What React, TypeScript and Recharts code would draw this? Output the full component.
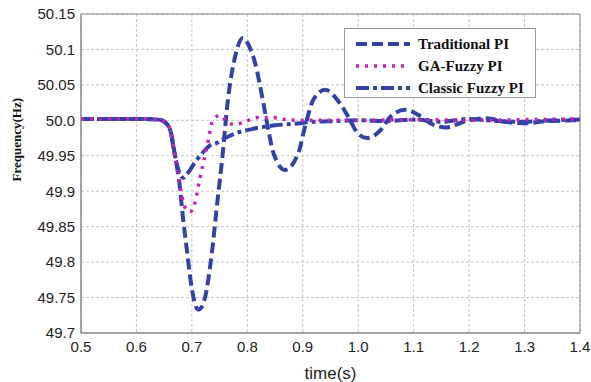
import React from 'react';
import { LineChart, Line, XAxis, YAxis, CartesianGrid, ReferenceArea } from 'recharts';

// time (s) and frequency (Hz)
const tradTime = [0.5, 0.6, 0.64, 0.652, 0.661, 0.67, 0.677, 0.684, 0.691, 0.7, 0.711, 0.718, 0.724, 0.736, 0.745, 0.755, 0.765, 0.778, 0.792, 0.803, 0.814, 0.829, 0.838, 0.847, 0.868, 0.892, 0.904, 0.919, 0.94, 0.967, 0.982, 0.998, 1.016, 1.04, 1.058, 1.085, 1.108, 1.13, 1.16, 1.19, 1.233, 1.262, 1.305, 1.341, 1.4];
const tradFreq = [50.002, 50.002, 50.001, 49.997, 49.986, 49.948, 49.915, 49.862, 49.817, 49.762, 49.733, 49.737, 49.751, 49.813, 49.878, 49.948, 50.029, 50.09, 50.116, 50.105, 50.081, 50.024, 49.986, 49.954, 49.93, 49.954, 49.991, 50.029, 50.043, 50.024, 50.005, 49.983, 49.975, 49.986, 50.005, 50.015, 50.008, 49.996, 49.99, 49.998, 50.003, 49.998, 49.996, 49.999, 50.0];

const gaTime = [0.5, 0.6, 0.64, 0.652, 0.661, 0.67, 0.677, 0.684, 0.69, 0.697, 0.704, 0.715, 0.727, 0.738, 0.751, 0.765, 0.778, 0.795, 0.82, 0.845, 0.87, 0.9, 1.0, 1.1, 1.2, 1.3, 1.4];
const gaFreq = [50.002, 50.002, 50.001, 49.997, 49.986, 49.948, 49.915, 49.886, 49.874, 49.871, 49.88, 49.92, 49.962, 50.0, 50.007, 49.997, 49.994, 49.998, 50.004, 50.004, 50.001, 50.0, 50.0, 50.001, 50.0, 50.001, 50.002];

const classicTime = [0.5, 0.6, 0.64, 0.652, 0.661, 0.67, 0.677, 0.684, 0.692, 0.705, 0.72, 0.73, 0.745, 0.76, 0.78, 0.81, 0.85, 0.883, 0.92, 0.96, 1.0, 1.05, 1.1, 1.15, 1.2, 1.25, 1.3, 1.35, 1.4];
const classicFreq = [50.002, 50.002, 50.001, 49.997, 49.986, 49.948, 49.927, 49.919, 49.925, 49.94, 49.955, 49.963, 49.968, 49.975, 49.982, 49.988, 49.993, 49.995, 49.998, 49.999, 50.0, 49.999, 50.001, 49.998, 50.002, 49.999, 49.998, 50.0, 50.001];

const xTicks = [0.5, 0.6, 0.7, 0.8, 0.9, 1.0, 1.1, 1.2, 1.3, 1.4];
const xTickLabels = ['0.5', '0.6', '0.7', '0.8', '0.9', '1.0', '1.1', '1.2', '1.3', '1.4'];
const yTicks = [49.7, 49.75, 49.8, 49.85, 49.9, 49.95, 50.0, 50.05, 50.1, 50.15];
const yTickLabels = ['49.7', '49.75', '49.8', '49.85', '49.9', '49.95', '50.0', '50.05', '50.1', '50.15'];

const toPoints = (t: number[], f: number[]) => t.map((v, i) => ({ t: v, f: f[i] }));

const BLUE = '#3342a6';
const MAGENTA = '#c61fbe';

const series = [
  { name: 'Traditional PI', data: toPoints(tradTime, tradFreq), color: BLUE, dash: '11 5', width: 4 },
  { name: 'Classic Fuzzy PI', data: toPoints(classicTime, classicFreq), color: BLUE, dash: '13 4 4 4', width: 4 },
  { name: 'GA-Fuzzy PI', data: toPoints(gaTime, gaFreq), color: MAGENTA, dash: '3 6', width: 3.5 },
];
const legendOrder = ['Traditional PI', 'GA-Fuzzy PI', 'Classic Fuzzy PI'];

const tickStyle = { fill: '#222', fontSize: 15, fontFamily: 'Liberation Sans, Arial, sans-serif' };

const App: React.FC = () => {
  return (
    <div style={{ position: 'absolute', left: 0, top: 0, width: 591, height: 382, background: '#fff' }}>
      <LineChart width={591} height={382} margin={{ top: 14, right: 11, left: 0, bottom: 0 }}>
        <CartesianGrid stroke="#c4c4c4" strokeDasharray="3 2" />
        <XAxis
          type="number"
          dataKey="t"
          domain={[0.5, 1.4]}
          ticks={xTicks}
          tickFormatter={(v: number) => xTickLabels[xTicks.findIndex((x) => Math.abs(x - v) < 1e-6)] ?? String(v)}
          tick={tickStyle}
          tickLine={false}
          tickSize={4}
          tickMargin={4}
          axisLine={{ stroke: '#888' }}
          height={49}
          allowDataOverflow
          label={{ value: 'time(s)', position: 'insideBottom', offset: 3, fill: '#222', fontSize: 17, fontFamily: 'Liberation Sans, Arial, sans-serif' }}
        />
        <YAxis
          type="number"
          dataKey="f"
          domain={[49.7, 50.15]}
          ticks={yTicks}
          tickFormatter={(v: number) => yTickLabels[yTicks.findIndex((y) => Math.abs(y - v) < 1e-6)] ?? String(v)}
          tick={tickStyle}
          tickLine={false}
          tickSize={4}
          tickMargin={2}
          axisLine={{ stroke: '#888' }}
          width={81}
          allowDataOverflow
          label={{ value: 'Frequency(Hz)', angle: -90, position: 'insideLeft', offset: 16, dy: 8, fill: '#111', fontSize: 13, fontWeight: 'bold', fontFamily: 'Liberation Serif, Times New Roman, serif' }}
        />
        <ReferenceArea x1={0.5} x2={1.4} y1={49.7} y2={50.15} fill="none" stroke="#888" strokeWidth={1} />
        {series.map((s) => (
          <Line
            key={s.name}
            data={s.data}
            dataKey="f"
            name={s.name}
            type="monotone"
            stroke={s.color}
            strokeWidth={s.width}
            strokeDasharray={s.dash}
            dot={false}
            activeDot={false}
            isAnimationActive={false}
          />
        ))}
      </LineChart>
      <div
        style={{
          position: 'absolute',
          left: 344,
          top: 28,
          width: 192,
          height: 70,
          border: '1px solid #999',
          background: '#fff',
          boxSizing: 'border-box',
        }}
      >
        {legendOrder.map((name, i) => {
          const s = series.find((x) => x.name === name)!;
          return (
            <div key={name} style={{ position: 'absolute', left: 10, top: 5 + i * 22, height: 20, display: 'flex', alignItems: 'center' }}>
              <svg width={56} height={10}>
                <line x1={1} y1={5} x2={55} y2={5} stroke={s.color} strokeWidth={s.width} strokeDasharray={s.dash} />
              </svg>
              <span style={{ marginLeft: 7, fontFamily: 'Liberation Serif, Times New Roman, serif', fontWeight: 'bold', fontSize: 15, color: '#111', whiteSpace: 'nowrap' }}>
                {name}
              </span>
            </div>
          );
        })}
      </div>
    </div>
  );
};

export default App;
